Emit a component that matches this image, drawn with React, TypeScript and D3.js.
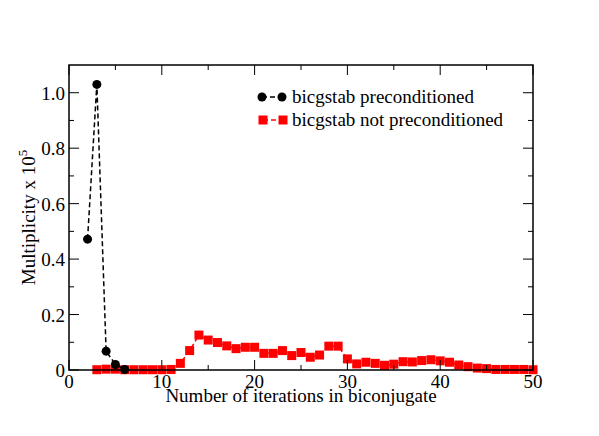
import React from "react";
import * as d3 from "d3";

const precX = [2, 3, 4, 5, 6];
const precY = [0.472, 1.03, 0.068, 0.02, 0.002];

const notPrecX = [3,4,5,6,7,8,9,10,11,12,13,14,15,16,17,18,19,20,21,22,23,24,25,26,27,28,29,30,31,32,33,34,35,36,37,38,39,40,41,42,43,44,45,46,47,48,49,50];
const notPrecY = [0.001,0.003,0.003,0.001,0.001,0.001,0.001,0.001,0.002,0.024,0.07,0.126,0.108,0.099,0.087,0.077,0.082,0.082,0.06,0.06,0.07,0.052,0.063,0.046,0.054,0.086,0.086,0.04,0.022,0.028,0.024,0.017,0.021,0.03,0.029,0.034,0.037,0.033,0.028,0.018,0.012,0.007,0.005,0.002,0.002,0.002,0.002,0.001];

const xTicks = [0, 10, 20, 30, 40, 50];
const xMinor = [5, 15, 25, 35, 45];
const yTicks = [0, 0.2, 0.4, 0.6, 0.8, 1.0];
const yTickLabels = ["0", "0.2", "0.4", "0.6", "0.8", "1.0"];
const yMinor = [0.1, 0.3, 0.5, 0.7, 0.9];

export default function App() {
  const W = 599, H = 436;
  const L = 69, R = 533, T = 65, B = 370;
  const x = d3.scaleLinear().domain([0, 50]).range([L, R]);
  const y = d3.scaleLinear().domain([0, 1.1]).range([B, T]);
  const line = d3.line<number>().x((d) => d[0]).y((d) => d[1]);
  const precPts = precX.map((v, i) => [x(v), y(precY[i])] as [number, number]);
  const npPts = notPrecX.map((v, i) => [x(v), y(notPrecY[i])] as [number, number]);
  const font = "'Liberation Serif', 'Times New Roman', serif";
  const fs = 19;
  const maj = 10, mn = 5;
  return (
    <svg width={W} height={H} style={{ position: "absolute", left: 0, top: 0, background: "#fff" }}>
      <rect x={0} y={0} width={W} height={H} fill="#fff" />
      {/* data */}
      <path d={line(npPts as any) || ""} fill="none" stroke="#ff0000" strokeWidth={1.5} strokeDasharray="5,3" />
      {npPts.map((p, i) => (
        <rect key={"s" + i} x={p[0] - 4.5} y={p[1] - 4.5} width={9} height={9} fill="#ff0000" />
      ))}
      <path d={line(precPts as any) || ""} fill="none" stroke="#000" strokeWidth={1.5} strokeDasharray="5,3" />
      {precPts.map((p, i) => (
        <circle key={"c" + i} cx={p[0]} cy={p[1]} r={4.5} fill="#000" />
      ))}
      {/* frame */}
      <rect x={L} y={T} width={R - L} height={B - T} fill="none" stroke="#000" strokeWidth={1.5} />
      {xTicks.map((t) => (
        <g key={"xt" + t}>
          <line x1={x(t)} x2={x(t)} y1={B} y2={B - maj} stroke="#000" strokeWidth={1} />
          <line x1={x(t)} x2={x(t)} y1={T} y2={T + maj} stroke="#000" strokeWidth={1} />
          <text x={x(t)} y={388} textAnchor="middle" fontFamily={font} fontSize={fs}>{t}</text>
        </g>
      ))}
      {xMinor.map((t) => (
        <g key={"xm" + t}>
          <line x1={x(t)} x2={x(t)} y1={B} y2={B - mn} stroke="#000" strokeWidth={1} />
          <line x1={x(t)} x2={x(t)} y1={T} y2={T + mn} stroke="#000" strokeWidth={1} />
        </g>
      ))}
      {yTicks.map((t, i) => (
        <g key={"yt" + t}>
          <line x1={L} x2={L + maj} y1={y(t)} y2={y(t)} stroke="#000" strokeWidth={1} />
          <line x1={R} x2={R - maj} y1={y(t)} y2={y(t)} stroke="#000" strokeWidth={1} />
          <text x={65} y={y(t) + 7} textAnchor="end" fontFamily={font} fontSize={fs}>{yTickLabels[i]}</text>
        </g>
      ))}
      {yMinor.map((t) => (
        <g key={"ym" + t}>
          <line x1={L} x2={L + mn} y1={y(t)} y2={y(t)} stroke="#000" strokeWidth={1} />
          <line x1={R} x2={R - mn} y1={y(t)} y2={y(t)} stroke="#000" strokeWidth={1} />
        </g>
      ))}
      {/* axis titles */}
      <text x={(L + R) / 2} y={402} textAnchor="middle" fontFamily={font} fontSize={fs}>Number of iterations in biconjugate</text>
      <text transform={`translate(35,${(T + B) / 2}) rotate(-90)`} textAnchor="middle" fontFamily={font} fontSize={fs}>
        Multiplicity x 10<tspan dy={-8} fontSize={13}>5</tspan>
      </text>
      {/* legend */}
      <line x1={262} x2={282} y1={97} y2={97} stroke="#000" strokeWidth={1.5} strokeDasharray="5,3" />
      <circle cx={262} cy={97} r={4.5} fill="#000" />
      <circle cx={282} cy={97} r={4.5} fill="#000" />
      <text x={292} y={103} fontFamily={font} fontSize={fs}>bicgstab preconditioned</text>
      <line x1={263} x2={283} y1={120} y2={120} stroke="#ff0000" strokeWidth={1.5} strokeDasharray="5,3" />
      <rect x={258.5} y={115.5} width={9} height={9} fill="#ff0000" />
      <rect x={278.5} y={115.5} width={9} height={9} fill="#ff0000" />
      <text x={292} y={126} fontFamily={font} fontSize={fs}>bicgstab not preconditioned</text>
    </svg>
  );
}
